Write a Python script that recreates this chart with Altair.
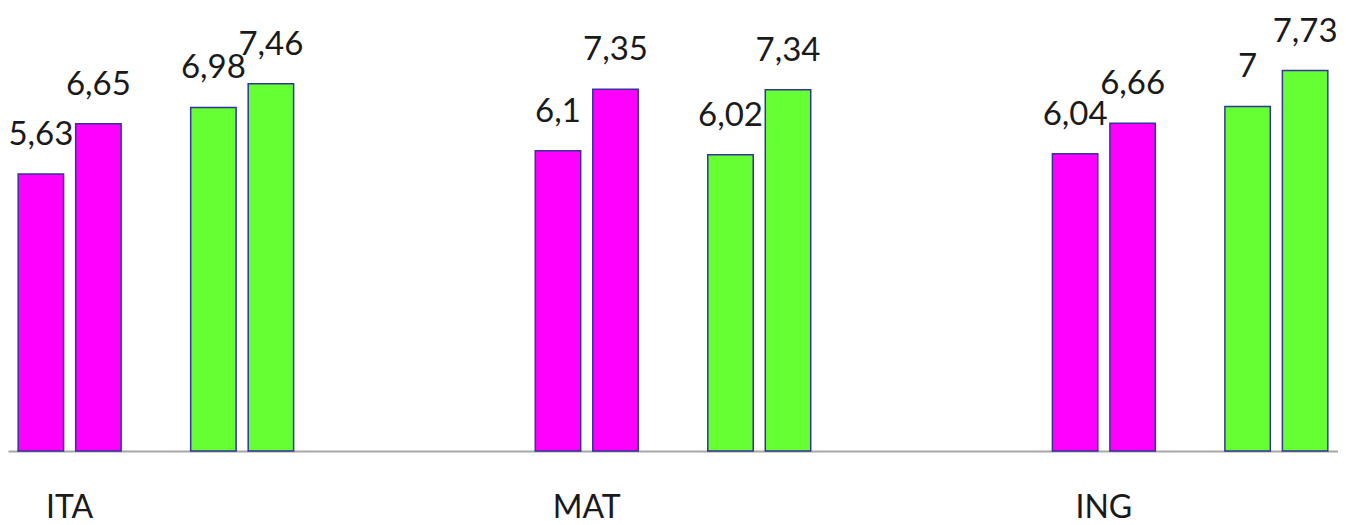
import altair as alt
import pandas as pd

subjects = ["ITA", "MAT", "ING"]
series = ["s1", "s2", "s3", "s4"]
slots = ["s1", "s2", "gap", "s3", "s4"]
s1_values = [5.63, 6.1, 6.04]
s2_values = [6.65, 7.35, 6.66]
s3_values = [6.98, 6.02, 7.0]
s4_values = [7.46, 7.34, 7.73]
colors = ["#FF00FF", "#FF00FF", "#66FF33", "#66FF33"]

rows = []
for s, vals in zip(series, [s1_values, s2_values, s3_values, s4_values]):
    for subj, v in zip(subjects, vals):
        rows.append({"subject": subj, "series": s, "value": v,
                     "label": f"{v:g}".replace(".", ",")})
df = pd.DataFrame(rows)

FONT = "Lato"

x = alt.X("subject:N", sort=subjects,
          scale=alt.Scale(paddingInner=0.444, paddingOuter=0.008),
          axis=alt.Axis(title=None, labelAngle=0, ticks=False, tickSize=0,
                        labelFont=FONT, labelFontSize=32, labelColor="#1a1a1a",
                        labelPadding=66, labelOffset=-86.25,
                        labelBaseline="alphabetic",
                        domainColor="#a6a6a6", domainWidth=2, grid=False))
xo = alt.XOffset("series:N",
                 scale=alt.Scale(domain=slots, paddingInner=0.21, paddingOuter=0.105))
y = alt.Y("value:Q", scale=alt.Scale(domain=[0, 9], nice=False, zero=True), axis=None)

base = alt.Chart(df)
bars = base.mark_bar(stroke="#333399", strokeWidth=1.5).encode(
    x=x, xOffset=xo, y=y,
    color=alt.Color("series:N", scale=alt.Scale(domain=series, range=colors), legend=None),
)
texts = base.mark_text(font=FONT, fontSize=33, color="#1a1a1a", baseline="alphabetic",
                       align="center", dy=-29).encode(
    x=x, xOffset=xo, y=y, text="label:N"
)

chart = alt.layer(bars, texts).properties(
    width=1330, height=443,
    autosize=alt.AutoSizeParams(type="none"),
    padding={"left": 0, "top": 0, "right": 0, "bottom": 74},
    background="white",
).configure_view(stroke=None)

chart.save("out.html", embed_options={"renderer": "svg", "actions": False})
